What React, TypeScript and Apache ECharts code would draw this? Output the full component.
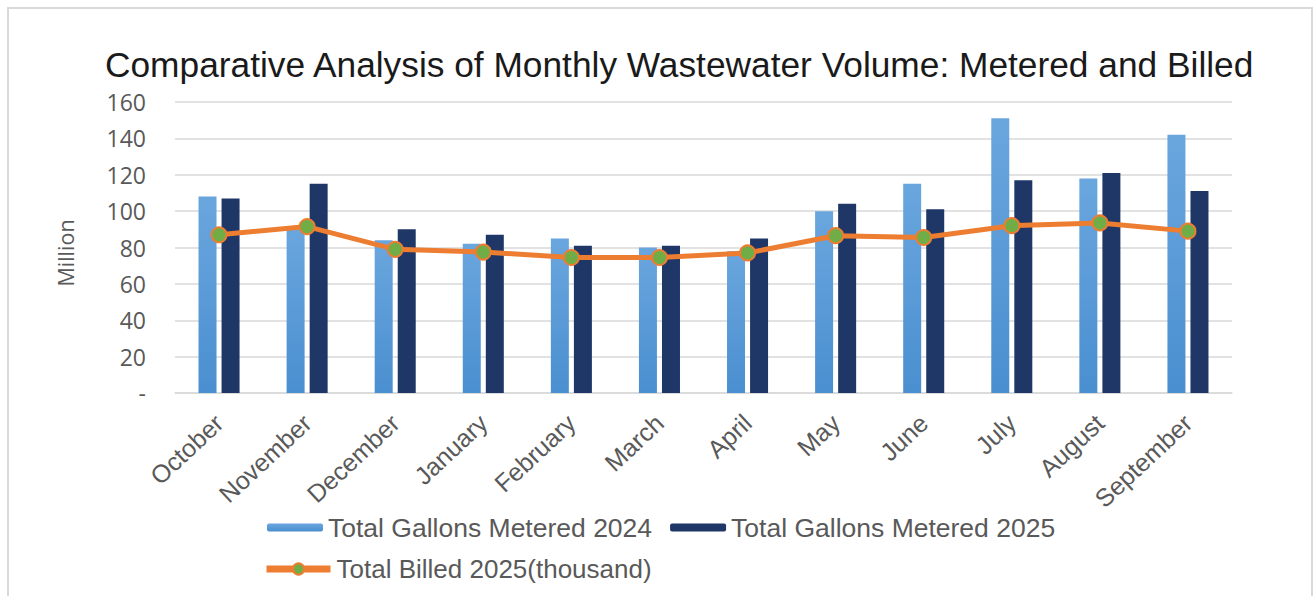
import React, { useEffect, useRef } from "react";
import * as echarts from "echarts";

const months = ["October", "November", "December", "January", "February", "March", "April", "May", "June", "July", "August", "September"];
const metered2024 = [108, 90, 84, 82, 85, 80, 78, 100, 115, 151, 118, 142];
const metered2025 = [107, 115, 90, 87, 81, 81, 85, 104, 101, 117, 121, 111];
const billed2025 = [87, 91.5, 79, 77.5, 74.5, 74.5, 77, 86.5, 85.5, 92, 93.5, 89];
const yTicks = { min: 0, max: 160, interval: 20 };

const TITLE = "Comparative Analysis of Monthly Wastewater Volume: Metered and Billed";
const S1 = "Total Gallons Metered 2024";
const S2 = "Total Gallons Metered 2025";
const S3 = "Total Billed 2025(thousand)";

export default function App() {
  const ref = useRef<HTMLDivElement>(null);
  useEffect(() => {
    if (!ref.current) return;
    const chart = echarts.init(ref.current, null, { renderer: "svg" });
    const labelColor = "#595959";
    chart.setOption({
      animation: false,
      backgroundColor: "#ffffff",
      title: {
        text: TITLE,
        left: 100,
        top: 42,
        textStyle: { fontFamily: "Liberation Sans", fontSize: 35.3, fontWeight: "normal", color: "#1a1a1a" },
      },
      graphic: [
        {
          type: "rect",
          shape: { x: 8, y: 8, width: 1304, height: 620 },
          style: { fill: "none", stroke: "#d9d9d9", lineWidth: 2 },
          silent: true,
        },
        {
          type: "text",
          x: 65,
          y: 253,
          rotation: Math.PI / 2,
          style: {
            text: "Million",
            fontFamily: "Open Sans",
            fontSize: 21.5,
            fill: labelColor,
            align: "center",
            verticalAlign: "middle",
          },
        },
      ],
      legend: [
        {
          data: [S1, S2],
          left: 262,
          top: 509,
          itemWidth: 56,
          itemHeight: 8,
          itemGap: 18,
          textStyle: { fontFamily: "Liberation Sans", fontSize: 26.5, color: labelColor },
        },
        {
          data: [S3],
          left: 258,
          top: 551,
          itemWidth: 64,
          itemHeight: 14,
          lineStyle: { width: 7, color: "#ed7d31" },
          textStyle: { fontFamily: "Liberation Sans", fontSize: 26, color: labelColor, padding: [0, 0, 0, 1] },
        },
      ],
      grid: { left: 175, right: 84, top: 102, bottom: 203, containLabel: false },
      xAxis: {
        type: "category",
        data: months,
        axisLine: { show: true, lineStyle: { color: "#d9d9d9", width: 1.5 } },
        axisTick: { show: false },
        axisLabel: {
          rotate: 43,
          margin: 26,
          color: labelColor,
          fontFamily: "Liberation Sans",
          fontSize: 25,
          interval: 0,
        },
      },
      yAxis: {
        type: "value",
        min: yTicks.min,
        max: yTicks.max,
        interval: yTicks.interval,
        axisLine: { show: false },
        axisTick: { show: false },
        splitLine: { lineStyle: { color: "#d9d9d9", width: 1.5 } },
        axisLabel: {
          margin: 29,
          color: labelColor,
          fontFamily: "Open Sans",
          fontSize: 23,
          formatter: (v: number) => (v === 0 ? "-" : String(v)),
        },
      },
      series: [
        {
          name: S1,
          type: "bar",
          data: metered2024,
          barWidth: 18,
          barGap: "28%",
          itemStyle: {
            color: new echarts.graphic.LinearGradient(0, 0, 0, 1, [
              { offset: 0, color: "#6aa6de" },
              { offset: 1, color: "#4a8fd0" },
            ]),
          },
        },
        {
          name: S2,
          type: "bar",
          data: metered2025,
          barWidth: 18,
          barGap: "28%",
          itemStyle: { color: "#1f3767" },
        },
        {
          name: S3,
          type: "line",
          data: billed2025,
          z: 5,
          symbol: "circle",
          symbolSize: 15,
          lineStyle: { color: "#ed7d31", width: 5 },
          itemStyle: { color: "#70ad47", borderColor: "#ed7d31", borderWidth: 2 },
        },
      ],
    });
    return () => chart.dispose();
  }, []);
  return <div ref={ref} style={{ position: "fixed", left: 0, top: 0, width: 1316, height: 596 }} />;
}
